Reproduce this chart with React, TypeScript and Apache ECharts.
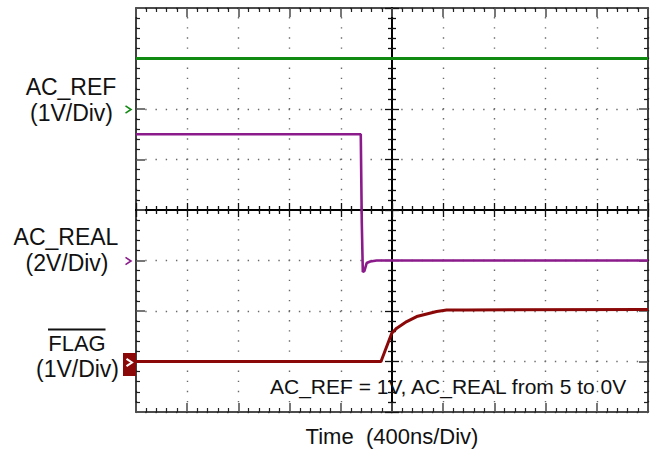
import React, { useEffect, useRef } from "react";
import * as echarts from "echarts";

// Time axis (ns), 400 ns per division, 10 divisions
const timeMin = -2000;
const timeMax = 2000;
const timeStep = 400;
// Vertical axis in divisions, 8 divisions
const divMin = -4;
const divMax = 4;
const divStep = 1;

// AC_REF channel (volts)
const refTime = [-2000, -1200, -400, 400, 1200, 2000];
const refVolts = [1.0, 1.0, 1.0, 1.0, 1.0, 1.0];

// AC_REAL channel (volts)
const realTime = [-2000, -244, -236, -228, -216, -198, -170, -120, 2000];
const realVolts = [5.0, 5.0, 1.5, -0.45, -0.42, -0.1, -0.04, 0, 0];

// FLAG channel (volts)
const flagTime = [-2000, -86, -2, 37, 115, 193, 271, 349, 427, 583, 2000];
const flagVolts = [0, 0, 0.56, 0.66, 0.79, 0.89, 0.94, 0.99, 1.02, 1.02, 1.03];

// channel settings
const channelNames = ["AC_REF", "AC_REAL", "FLAG"];
const channelScales = ["(1V/Div)", "(2V/Div)", "(1V/Div)"];
const voltsPerDiv = [1, 2, 1];
const groundDiv = [2, -1, -3];
const channelColors = ["#118a11", "#8b1a8b", "#8b0808"];

const annotation = "AC_REF = 1V, AC_REAL from 5 to 0V";
const xTitle = "Time  (400ns/Div)";

const FONT = '"Liberation Sans", Arial, sans-serif';

function toDivs(times: number[], volts: number[], ch: number) {
  return times.map((t, i) => [t, groundDiv[ch] + volts[i] / voltsPerDiv[ch]]);
}

function borderAxis(
  pos: string,
  min: number,
  max: number,
  interval: number,
  split: boolean,
  dash: number[]
) {
  return {
    type: "value",
    min,
    max,
    interval,
    position: pos,
    axisLine: { show: true, onZero: false, lineStyle: { color: "#111", width: 1.6 } },
    axisTick: { show: true, inside: true, length: 9, lineStyle: { color: "#555", width: 1.6 } },
    minorTick: { show: true, splitNumber: 5, length: 4, lineStyle: { color: "#222", width: 1.2 } },
    axisLabel: { show: false },
    splitLine: {
      show: split,
      lineStyle: { color: "#6a6a6a", width: 1.4, type: dash, dashOffset: 0.7 },
    },
    minorSplitLine: { show: false },
  };
}

function centerAxis(pos: string, min: number, max: number, interval: number) {
  return {
    type: "value",
    min,
    max,
    interval,
    position: pos,
    axisLine: {
      show: true,
      onZero: true,
      onZeroAxisIndex: 0,
      lineStyle: { color: "#000", width: 2 },
    },
    axisTick: { show: true, inside: false, length: 7, lineStyle: { color: "#111", width: 1.3 } },
    minorTick: { show: true, splitNumber: 5, length: 4, lineStyle: { color: "#111", width: 1.3 } },
    axisLabel: { show: false },
    splitLine: { show: false },
    minorSplitLine: { show: false },
  };
}

function label(text: string, x: number, y: number, size: number, align = "center") {
  return {
    type: "text",
    z: 100,
    style: {
      text,
      x,
      y,
      fill: "#111",
      font: `${size}px ${FONT}`,
      align,
      textAlign: align,
      verticalAlign: "middle",
      textVerticalAlign: "middle",
    },
  };
}

function chevron(x: number, y: number, color: string, w = 1.6) {
  return {
    type: "polyline",
    z: 101,
    shape: { points: [[x, y - 3.6], [x + 5.5, y], [x, y + 3.6]] },
    style: { stroke: color, lineWidth: w, fill: "none" },
  };
}

export default function App() {
  const ref = useRef<HTMLDivElement>(null);
  useEffect(() => {
    const chart = echarts.init(ref.current!, null, { renderer: "svg" });
    const option = {
      animation: false,
      backgroundColor: "#fff",
      grid: { left: 136, top: 8, right: 8, bottom: 44, containLabel: false },
      xAxis: [
        borderAxis("bottom", timeMin, timeMax, timeStep, true, [1.4, 8.7]),
        borderAxis("top", timeMin, timeMax, timeStep, false, [1.4, 8.7]),
        centerAxis("bottom", timeMin, timeMax, timeStep),
        centerAxis("top", timeMin, timeMax, timeStep),
      ],
      yAxis: [
        borderAxis("left", divMin, divMax, divStep, true, [1.4, 8.84]),
        borderAxis("right", divMin, divMax, divStep, false, [1.4, 8.84]),
        centerAxis("left", divMin, divMax, divStep),
        centerAxis("right", divMin, divMax, divStep),
      ],
      series: [
        {
          type: "line",
          name: channelNames[0],
          data: toDivs(refTime, refVolts, 0),
          showSymbol: false,
          lineStyle: { color: channelColors[0], width: 3 },
          z: 5,
        },
        {
          type: "line",
          name: channelNames[1],
          data: toDivs(realTime, realVolts, 1),
          showSymbol: false,
          lineStyle: { color: channelColors[1], width: 2.6 },
          z: 5,
        },
        {
          type: "line",
          name: channelNames[2],
          data: toDivs(flagTime, flagVolts, 2),
          showSymbol: false,
          lineStyle: { color: channelColors[2], width: 3 },
          z: 5,
        },
      ],
      graphic: [
        label(channelNames[0], 71, 87, 23),
        label(channelScales[0], 71.5, 112.5, 23),
        label(channelNames[1], 66, 237, 23),
        label(channelScales[1], 67, 263, 23),
        label(channelNames[2], 77, 343.5, 22),
        label(channelScales[2], 77.5, 368.5, 23),
        {
          type: "line",
          z: 100,
          shape: { x1: 48, y1: 329.5, x2: 105.5, y2: 329.5 },
          style: { stroke: "#111", lineWidth: 2 },
        },
        chevron(125.5, 109.5, channelColors[0]),
        chevron(125.5, 261, channelColors[1]),
        {
          type: "rect",
          z: 100,
          shape: { x: 123, y: 353, width: 13, height: 23 },
          style: { fill: channelColors[2] },
        },
        chevron(126.5, 362.5, "#fff", 2),
        label(annotation, 270, 386, 21, "left"),
        label(xTitle, 392, 436, 22),
      ],
    };
    chart.setOption(option as any);
    return () => chart.dispose();
  }, []);
  return (
    <div
      ref={ref}
      style={{ position: "fixed", left: 0, top: 0, width: 656, height: 456, background: "#fff" }}
    />
  );
}
